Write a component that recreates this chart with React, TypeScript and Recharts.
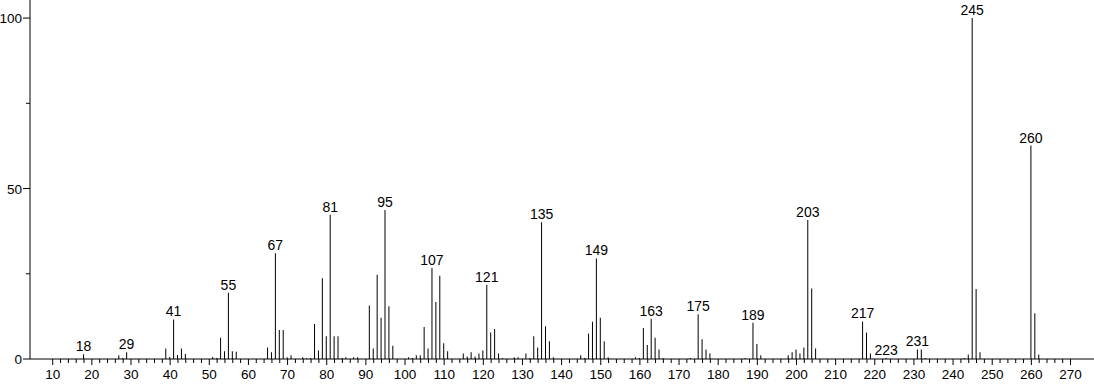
import { BarChart, Bar, XAxis, YAxis, LabelList } from 'recharts';

// m/z values and relative intensities
const masses = [
  18, 27, 28, 29, 39, 40, 41, 42, 43, 44, 51, 52, 53, 54, 55, 56, 57,
  65, 66, 67, 68, 69, 70, 71, 74, 75, 76, 77, 78, 79, 80, 81, 82, 83, 84, 85, 87, 88,
  91, 92, 93, 94, 95, 96, 97, 101, 102, 103, 104, 105, 106, 107, 108, 109, 110, 111,
  115, 116, 117, 118, 119, 120, 121, 122, 123, 124, 125, 128, 129, 131, 132, 133, 134,
  135, 136, 137, 138, 145, 146, 147, 148, 149, 150, 151, 152, 159, 160, 161, 162, 163,
  164, 165, 166, 173, 175, 176, 177, 178, 187, 189, 190, 191, 198, 199, 200, 201, 202,
  203, 204, 205, 217, 218, 219, 223, 231, 232, 233, 243, 244, 245, 246, 247, 260, 261, 262,
];

const intensities = [
  1.4, 1.1, 0.3, 2.0, 3.1, 0.6, 11.6, 1.2, 3.1, 1.5, 0.6, 0.3, 6.2, 2.3, 19.4, 2.3, 2.1,
  3.4, 2.0, 31.0, 8.5, 8.5, 0.5, 1.1, 0.5, 0.3, 0.3, 10.3, 2.5, 23.7, 6.7, 42.3, 6.7, 6.7, 0.3, 0.5, 0.5, 0.5,
  15.7, 3.1, 24.7, 12.1, 43.7, 15.5, 3.9, 0.5, 0.3, 1.1, 1.1, 9.4, 3.1, 26.7, 16.7, 24.4, 4.6, 2.3,
  1.6, 0.7, 2.0, 0.7, 1.6, 2.5, 21.8, 7.8, 8.8, 1.6, 0.3, 0.5, 0.5, 1.6, 0.3, 6.7, 3.4,
  40.1, 9.6, 5.2, 0.5, 1.1, 0.3, 7.5, 10.9, 29.5, 12.1, 5.2, 0.5, 0.5, 0.3, 9.1, 4.1, 11.8,
  6.2, 2.8, 0.3, 0.3, 13.1, 5.8, 2.8, 1.6, 0.3, 10.6, 4.4, 1.1, 1.1, 2.0, 2.8, 1.6, 3.4,
  40.8, 20.7, 3.1, 11.0, 7.8, 1.6, 0.3, 2.8, 2.8, 0.3, 0.3, 1.3, 100, 20.5, 2.0, 62.6, 13.4, 1.3,
];

const labeledPeaks = [18, 29, 41, 55, 67, 81, 95, 107, 121, 135, 149, 163, 175, 189, 203, 217, 223, 231, 245, 260];

const xTickLabels = [10, 20, 30, 40, 50, 60, 70, 80, 90, 100, 110, 120, 130, 140, 150, 160, 170, 180, 190, 200, 210, 220, 230, 240, 250, 260, 270];
const yTicks = [0, 25, 50, 75, 100];
const yTickLabels = [0, 50, 100];

const data = masses.map((m, i) => ({
  mz: m,
  value: intensities[i],
  label: labeledPeaks.includes(m) ? String(m) : undefined,
}));

// every 2 units between the labelled ticks
const xTicks: number[] = [];
xTickLabels.forEach((t, i) => {
  xTicks.push(t);
  if (i < xTickLabels.length - 1) {
    for (let k = 2; k < 10; k += 2) xTicks.push(t + k);
  }
});

const FONT = '"Liberation Sans", Arial, sans-serif';
const TICK_SIZE = 6;
const TICK_MARGIN = 2;

function XTick(props: any) {
  const { x, y, payload } = props;
  const major = xTickLabels.includes(payload.value);
  const axisY = y - TICK_SIZE - TICK_MARGIN;
  return (
    <g>
      <line x1={x} x2={x} y1={axisY} y2={axisY + (major ? 6 : 4)} stroke="#000" strokeWidth={1} />
      {major && (
        <text x={x} y={axisY + 20} textAnchor="middle" fontSize={13.5} fontFamily={FONT} fill="#000">
          {payload.value}
        </text>
      )}
    </g>
  );
}

function YTick(props: any) {
  const { x, y, payload } = props;
  const major = yTickLabels.includes(payload.value);
  const axisX = x + TICK_SIZE + TICK_MARGIN;
  return (
    <g>
      <line x1={axisX - (major ? 7 : 4)} x2={axisX} y1={y} y2={y} stroke="#000" strokeWidth={1} />
      {major && (
        <text x={axisX - 8} y={y + 5} textAnchor="end" fontSize={13.5} fontFamily={FONT} fill="#000">
          {payload.value}
        </text>
      )}
    </g>
  );
}

export default function App() {
  return (
    <div style={{ position: 'absolute', left: 0, top: 0, width: 1094, height: 384, background: '#fff' }}>
      <BarChart
        width={1094}
        height={384}
        data={data}
        margin={{ top: 0, right: 0, bottom: 0, left: 0 }}
        barSize={1}
      >
        <XAxis
          dataKey="mz"
          type="number"
          domain={[4.2, 276]}
          ticks={xTicks}
          interval={0}
          height={25}
          tickSize={TICK_SIZE}
          tickMargin={TICK_MARGIN}
          tickLine={false}
          tick={<XTick />}
          stroke="#000"
          allowDataOverflow
        />
        <YAxis
          type="number"
          domain={[0, 105.3]}
          ticks={yTicks}
          interval={0}
          width={30}
          tickSize={TICK_SIZE}
          tickMargin={TICK_MARGIN}
          tickLine={false}
          tick={<YTick />}
          stroke="#000"
          allowDataOverflow
        />
        <Bar dataKey="value" fill="#000" isAnimationActive={false}>
          <LabelList
            dataKey="label"
            position="top"
            offset={3}
            style={{ fontSize: 14, fontFamily: FONT, fill: '#000' }}
          />
        </Bar>
      </BarChart>
    </div>
  );
}
